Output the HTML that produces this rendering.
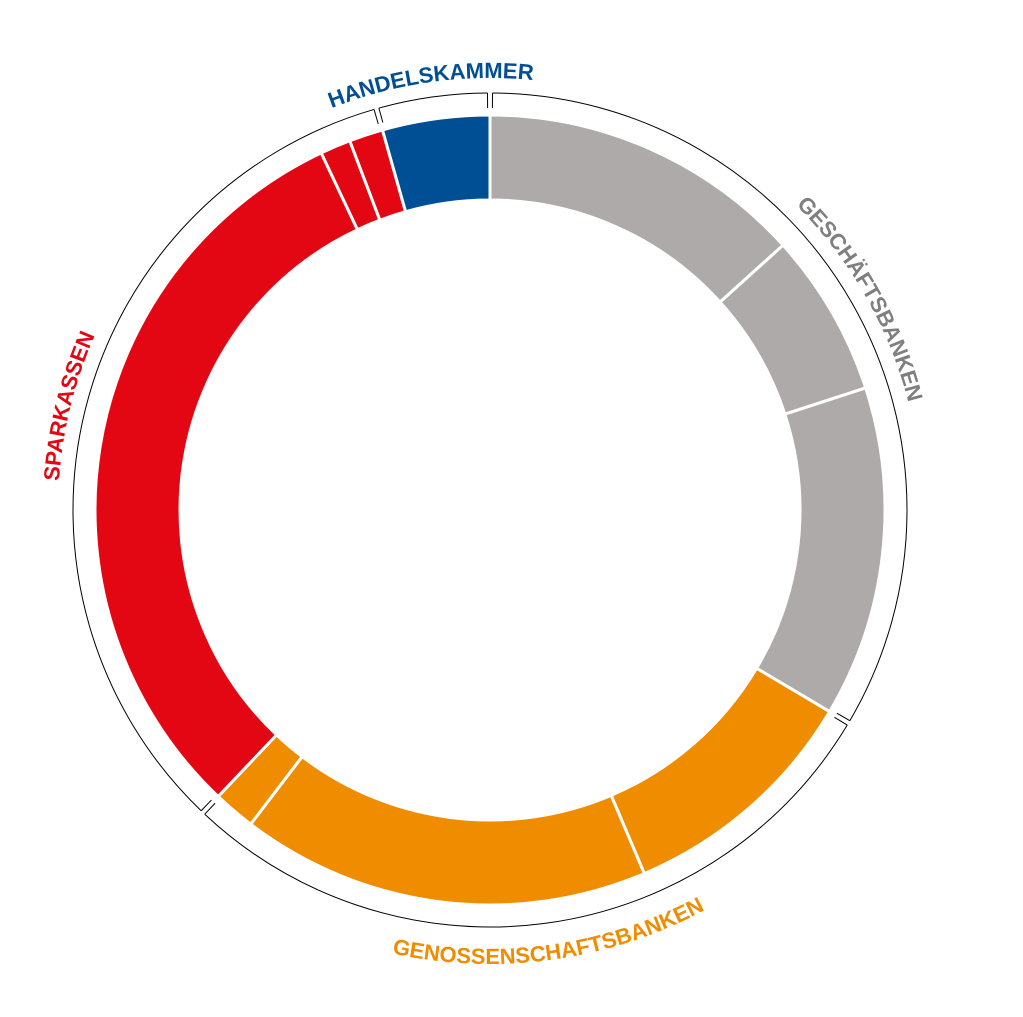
<!DOCTYPE html>
<html><head><meta charset="utf-8"><style>
html,body{margin:0;padding:0;background:#fff;}
svg{display:block;font-family:"Liberation Sans",Arial,sans-serif;font-weight:bold;}
</style></head><body>
<svg id="chart" width="1023" height="1017" viewBox="0 0 1023 1017" xmlns="http://www.w3.org/2000/svg">
<defs id="defs"></defs>
<g id="slices"></g>
<g id="brackets"></g>
<g id="labels"></g>
</svg>
<script>
const categories = ["gesch-1","gesch-2","gesch-3","geno-1","geno-2","geno-3","spark-1","spark-2","spark-3","handel-1"];
const values = [47.9, 24.1, 48.7, 36.3, 60.3, 6.2, 111.2, 4.5, 5.0, 15.8];
const sliceGroups = [0,0,0,1,1,1,2,2,2,3];
const groupNames = ["GESCHÄFTSBANKEN","GENOSSENSCHAFTSBANKEN","SPARKASSEN","HANDELSKAMMER"];
const groupColors = ["#aeaaa9","#f08c00","#e30613","#004f95"];
const labelColors = ["#7f7f7f","#f08c00","#e30613","#004f95"];

const NS="http://www.w3.org/2000/svg";
const cx=490, cy=510, rOut=395, rIn=310, rBr=417, rLab=432;
const total = values.reduce((a,b)=>a+b,0);
const ang = v => v/total*2*Math.PI;
const pt = (r,a)=>[cx+r*Math.sin(a), cy-r*Math.cos(a)];
function arcPath(r,a0,a1,sweep){const p0=pt(r,a0),p1=pt(r,a1);const large=Math.abs(a1-a0)>Math.PI?1:0;return `M${p0[0]},${p0[1]} A${r},${r} 0 ${large} ${sweep} ${p1[0]},${p1[1]}`;}
function slicePath(a0,a1){const o0=pt(rOut,a0),o1=pt(rOut,a1),i1=pt(rIn,a1),i0=pt(rIn,a0);const l=(a1-a0)>Math.PI?1:0;
return `M${o0[0]},${o0[1]} A${rOut},${rOut} 0 ${l} 1 ${o1[0]},${o1[1]} L${i1[0]},${i1[1]} A${rIn},${rIn} 0 ${l} 0 ${i0[0]},${i0[1]} Z`;}

const gS=document.getElementById('slices');
let a=0; const gStart=[],gEnd=[];
values.forEach((v,i)=>{const a1=a+ang(v);const p=document.createElementNS(NS,'path');
p.setAttribute('d',slicePath(a,a1));p.setAttribute('fill',groupColors[sliceGroups[i]]);p.setAttribute('stroke','#fff');p.setAttribute('stroke-width','3');


gS.appendChild(p);
const g=sliceGroups[i]; if(gStart[g]===undefined)gStart[g]=a; gEnd[g]=a1; a=a1;});

const gB=document.getElementById('brackets'), gL=document.getElementById('labels'), defs=document.getElementById('defs');
groupNames.forEach((name,g)=>{
 const a0=gStart[g]+0.006, a1=gEnd[g]-0.006;
 const p=document.createElementNS(NS,'path');
 p.setAttribute('d',arcPath(rBr,a0,a1,1));p.setAttribute('fill','none');p.setAttribute('stroke','#000');p.setAttribute('stroke-width','1');
 
 
 gB.appendChild(p);
 [a0,a1].forEach(t=>{const q0=pt(rBr,t),q1=pt(rBr-15,t);const l=document.createElementNS(NS,'line');
  l.setAttribute('x1',q0[0]);l.setAttribute('y1',q0[1]);l.setAttribute('x2',q1[0]);l.setAttribute('y2',q1[1]);l.setAttribute('stroke','#000');l.setAttribute('stroke-width','1');
  
  
  gB.appendChild(l);});
 // label path
 const mid=(gStart[g]+gEnd[g])/2, span=0.9;
 const bottom = Math.cos(mid)<-0.5;
 const lp=document.createElementNS(NS,'path'); lp.setAttribute('id','lp'+g);
 if(bottom){ lp.setAttribute('d',arcPath(rLab+22,mid+span,mid-span,0)); }
 else { lp.setAttribute('d',arcPath(rLab,mid-span,mid+span,1)); }
 defs.appendChild(lp);
 const t=document.createElementNS(NS,'text');
 t.setAttribute('font-size','22');t.setAttribute('fill',labelColors[g]);t.setAttribute('text-anchor','middle');
 
 
 const tp=document.createElementNS(NS,'textPath');tp.setAttribute('href','#lp'+g);tp.setAttribute('startOffset','50%');tp.textContent=name;
 t.appendChild(tp); gL.appendChild(t);
});
</script>
</body></html>
